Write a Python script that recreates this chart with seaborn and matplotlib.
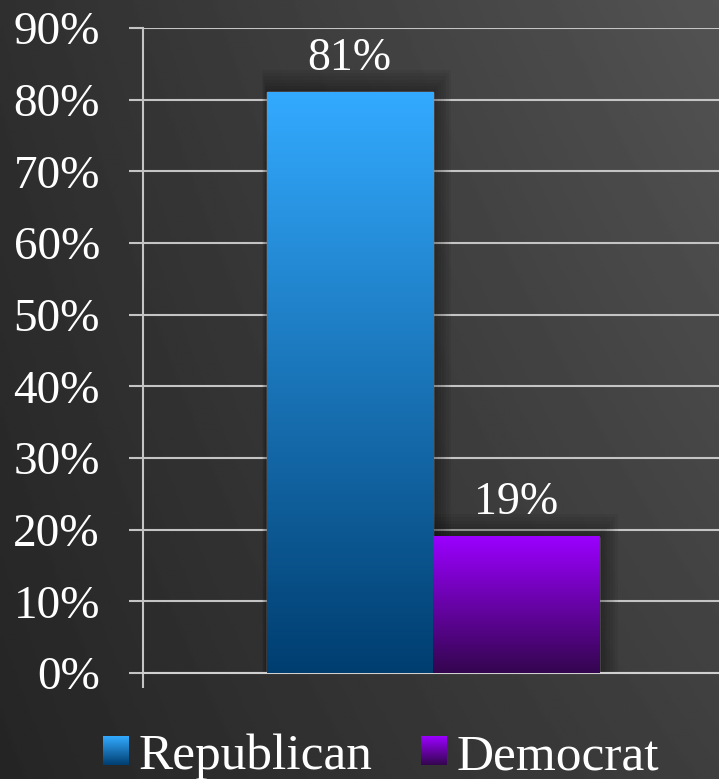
import numpy as np
import pandas as pd
import matplotlib
matplotlib.use("Agg")
import matplotlib.pyplot as plt
import seaborn as sns
from matplotlib.colors import LinearSegmentedColormap
from matplotlib.patches import Rectangle
from matplotlib.image import BboxImage
from matplotlib.ticker import FuncFormatter

# ---- data ----
parties = ["Republican", "Democrat"]
shares = [0.81, 0.19]
value_labels = ["81%", "19%"]
yticks = [0.0, 0.1, 0.2, 0.3, 0.4, 0.5, 0.6, 0.7, 0.8, 0.9]

# gradient colours (top, bottom)
grad_cols = {
    "Republican": ("#33aaff", "#003e70"),
    "Democrat": ("#9b00ff", "#34064f"),
}
mid_cols = {"Republican": "#0b84d8", "Democrat": "#7a14c0"}

df = pd.DataFrame({"group": [""] * len(parties), "party": parties, "share": shares})

sns.set_theme(style="white")
plt.rcParams["font.family"] = ["Liberation Serif", "DejaVu Serif"]

W, H = 719, 779
fig = plt.figure(figsize=(W / 100, H / 100), dpi=100)

# background gradient (lighter toward top-right)
bg = fig.add_axes([0, 0, 1, 1], zorder=-10)
xx, yy = np.meshgrid(np.linspace(0, 1, 300), np.linspace(0, 1, 300))
val = 0.145 + 0.10 * xx + 0.04 * yy + 0.04 * xx * yy
bg.imshow(val, cmap="gray", vmin=0, vmax=1, extent=[0, 1, 0, 1], origin="lower", aspect="auto")
bg.set_axis_off()

left, right = 143 / W, 723 / W
bottom, top = 1 - 673 / H, 1 - 28 / H
ax = fig.add_axes([left, bottom, right - left, top - bottom])
ax.patch.set_alpha(0)

sns.barplot(data=df, x="group", y="share", hue="party", hue_order=parties,
            palette=mid_cols, width=0.574, ax=ax, legend=False, saturation=1)

ax.set_ylim(0, 0.9)
ax.set_xlim(-0.5, 0.5)
ax.set_yticks(yticks)
ax.yaxis.set_major_formatter(FuncFormatter(lambda v, p: f"{v*100:.0f}%"))
ax.set_xticks([-0.5])
ax.set_xticklabels([""])
ax.set_xlabel("")
ax.set_ylabel("")
ax.grid(axis="y", color="#c4c4c4", linewidth=1.5)
ax.set_axisbelow(True)
for s in ["top", "right"]:
    ax.spines[s].set_visible(False)
ax.spines["left"].set_color("#c4c4c4")
ax.spines["left"].set_linewidth(1.5)
ax.spines["bottom"].set_color("#d0d0d0")
ax.spines["bottom"].set_linewidth(1.5)
ax.tick_params(axis="y", direction="out", length=10, width=1.5, color="#c4c4c4",
               labelsize=34, labelcolor="white", pad=21, left=True)
ax.tick_params(axis="x", direction="out", length=11, width=1.5, color="#c4c4c4", bottom=True)

# gradient fills + soft shadows
bars = [p for p in ax.patches if isinstance(p, Rectangle) and p.get_height() > 0]
bars = sorted(bars, key=lambda p: p.get_x())
for p, party in zip(bars, parties):
    x0, w, h = p.get_x(), p.get_width(), p.get_height()
    ctop, cbot = grad_cols[party]
    cmap = LinearSegmentedColormap.from_list(party, [cbot, ctop])
    grad = np.linspace(0, 1, 256).reshape(-1, 1)
    ax.imshow(grad, cmap=cmap, extent=[x0, x0 + w, 0, h], origin="lower",
              aspect="auto", zorder=3)
    for k in range(1, 8):
        dx = 0.0035 * k
        dy = 0.0045 * k
        ax.add_patch(Rectangle((x0 - dx * 0.3, 0), w + dx * 1.6, h + dy,
                               facecolor="black", edgecolor="none", alpha=0.05, zorder=1.5))
ax.set_xlim(-0.5, 0.5)
ax.set_ylim(0, 0.9)

for c, lab in zip(ax.containers, value_labels):
    ax.bar_label(c, labels=[lab], padding=9, fontsize=33, color="white", zorder=5)

# legend
handles = [Rectangle((0, 0), 1, 1, facecolor=mid_cols[p], edgecolor="none") for p in parties]
leg = fig.legend(handles, parties, loc="center", bbox_to_anchor=(381 / W, 1 - 757 / H),
                 ncol=2, frameon=False, fontsize=37, labelcolor="white",
                 handlelength=0.49, handleheight=0.49, handletextpad=0.21, columnspacing=0.93)

fig.canvas.draw()
renderer = fig.canvas.get_renderer()
for hp, party in zip(leg.legend_handles, parties):
    bb = hp.get_window_extent(renderer)
    ctop, cbot = grad_cols[party]
    cmap = LinearSegmentedColormap.from_list(party + "_l", [cbot, ctop])
    bim = BboxImage(bb, cmap=cmap, origin="lower", zorder=10)
    bim.set_data(np.linspace(0, 1, 64).reshape(-1, 1))
    fig.add_artist(bim)
    hp.set_alpha(0)

fig.savefig("out.png", dpi=100)
